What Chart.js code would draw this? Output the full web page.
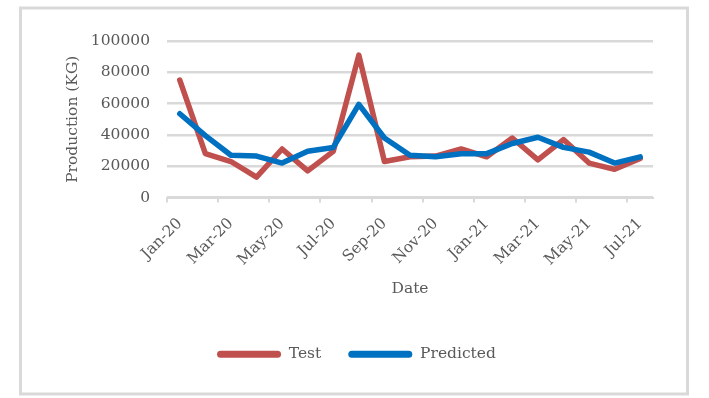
<!DOCTYPE html>
<html>
<head>
<meta charset="utf-8">
<script src="https://cdn.jsdelivr.net/npm/chart.js@4/dist/chart.umd.min.js"></script>
<style>
html,body{margin:0;padding:0;background:#fff;}
#wrap{position:relative;width:709px;height:398px;}
</style>
</head>
<body>
<div id="wrap"><canvas id="c" width="709" height="398"></canvas></div>
<script>
const months = ["Jan-20","Feb-20","Mar-20","Apr-20","May-20","Jun-20","Jul-20","Aug-20","Sep-20","Oct-20","Nov-20","Dec-20","Jan-21","Feb-21","Mar-21","Apr-21","May-21","Jun-21","Jul-21"];
const testValues = [75000,28000,23000,13000,31000,17000,29500,91000,23000,26000,26500,31000,26000,38000,24000,37000,22000,18000,25000];
const predictedValues = [53500,39500,27000,26500,22000,29500,32000,59500,38000,27000,26000,28000,28000,34500,38500,32000,29000,22000,26000];
const yTicks = [0,20000,40000,60000,80000,100000];

const FONT = "'DejaVu Serif', serif";
const TXT = '#595959';
const GRID = '#d9d9d9';

const borderPlugin = {
  id: 'outerBorder',
  beforeDraw(chart){
    const ctx = chart.ctx;
    ctx.save();
    ctx.fillStyle = '#fff';
    ctx.fillRect(0,0,chart.width,chart.height);
    ctx.strokeStyle = GRID;
    ctx.lineWidth = 3;
    ctx.strokeRect(20.5, 8, 667, 386);
    ctx.restore();
  }
};

new Chart(document.getElementById('c'), {
  type: 'line',
  data: {
    labels: months,
    datasets: [
      {label:'Test', data:testValues, borderColor:'#C0504D', backgroundColor:'#C0504D', borderWidth:5.5, pointRadius:0, tension:0, borderCapStyle:'round', borderJoinStyle:'round', order:1},
      {label:'Predicted', data:predictedValues, borderColor:'#0070C0', backgroundColor:'#0070C0', borderWidth:5.5, pointRadius:0, tension:0, borderCapStyle:'round', borderJoinStyle:'round', order:0}
    ]
  },
  options: {
    responsive:false,
    animation:false,
    events:[],
    layout:{padding:{left:60,right:56,top:41,bottom:26}},
    plugins:{
      tooltip:{enabled:false},
      legend:{
        position:'bottom',
        labels:{
          font:{family:FONT,size:15.5},
          color:TXT,
          boxWidth:64,
          boxHeight:7,
          useBorderRadius:true,
          borderRadius:3.5,
          padding:27,
          sort:(a,b)=>a.datasetIndex-b.datasetIndex,
          generateLabels:(chart)=>{
            const items = Chart.defaults.plugins.legend.labels.generateLabels(chart);
            items.forEach(it=>{it.lineWidth=0;});
            return items;
          }
        }
      }
    },
    scales:{
      x:{
        type:'category',
        offset:true,
        grid:{offset:true, drawOnChartArea:false, drawTicks:true, tickLength:5, lineWidth:2,
          tickColor:(ctx)=> (ctx.index!==undefined && ctx.index%2===0) ? GRID : 'rgba(0,0,0,0)'},
        border:{display:true,color:GRID,width:2},
        ticks:{autoSkip:false,maxRotation:45,minRotation:45,color:TXT,font:{family:FONT,size:15.5},padding:12,
          callback:function(v,i){return i%2===0 ? months[i] : '';}},
        title:{display:true,text:'Date',color:TXT,font:{family:FONT,size:15.5},padding:{top:0,bottom:21.5}},
        afterFit:(s)=>{s.height=122;}
      },
      y:{
        min:0,max:100000,
        afterBuildTicks:(s)=>{s.ticks=yTicks.map(v=>({value:v}));},
        grid:{color:GRID,lineWidth:2.5,drawTicks:false},
        border:{display:false},
        ticks:{color:TXT,font:{family:FONT,size:15.5},padding:17,callback:(v)=>String(v)},
        title:{display:true,text:'Production (KG)',color:TXT,font:{family:FONT,size:15.5},padding:{top:4,bottom:0}},
        afterFit:(s)=>{s.width=107;}
      }
    }
  },
  plugins:[borderPlugin]
});
</script>
</body>
</html>
